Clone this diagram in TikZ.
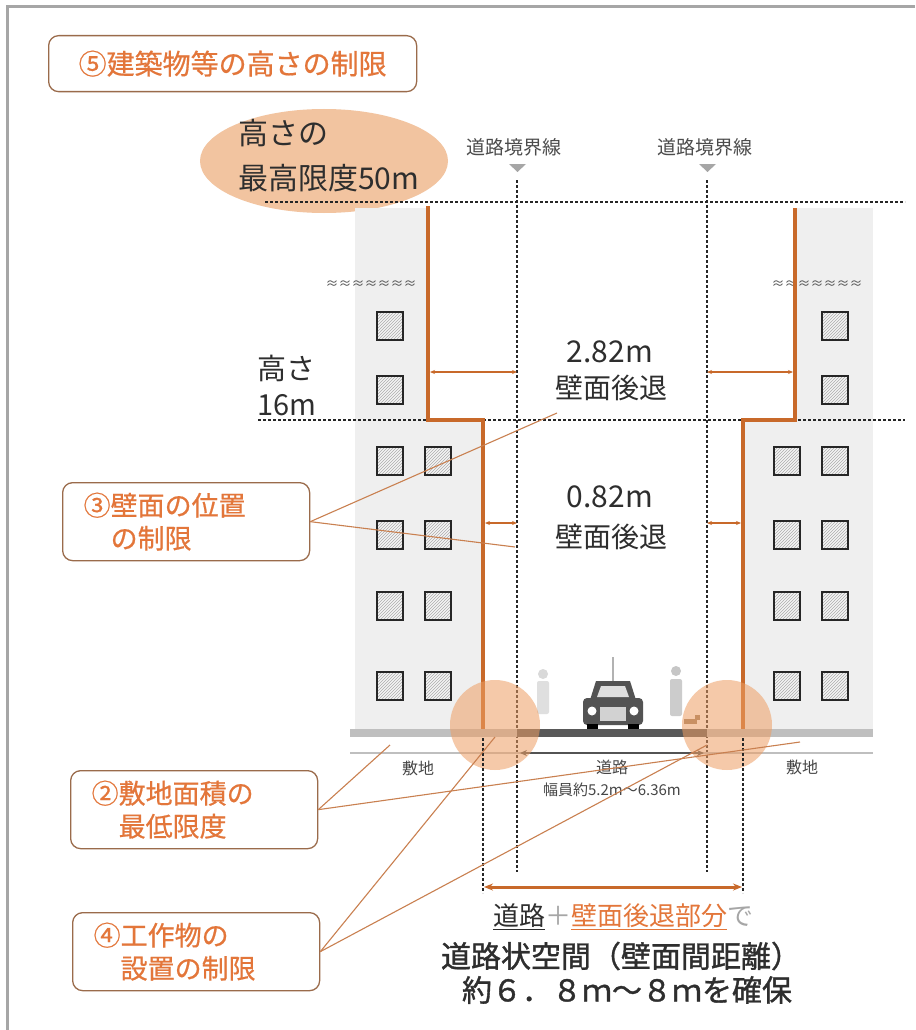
\documentclass[tikz,border=0pt]{standalone}
\usepackage{fontspec}
\setmainfont{Noto Sans CJK JP}
\newfontfamily\medfont[FakeBold=1.2]{Noto Sans CJK JP}
\newfontfamily\semifont[FakeBold=0.6]{Noto Sans CJK JP}
\usetikzlibrary{patterns,arrows.meta}

\definecolor{wallor}{HTML}{C8692A}
\definecolor{labelor}{HTML}{E3763A}
\definecolor{boxedge}{HTML}{9A6B4B}
\definecolor{blob}{HTML}{EE9E63}
\definecolor{ellfill}{HTML}{F2C4A0}
\definecolor{leader}{HTML}{C98050}
\definecolor{bldg}{HTML}{EFEFEF}
\definecolor{ink}{HTML}{2E2E2E}

\tikzset{
  window/.pic={
    \fill[gray!8] (-13,-14) rectangle (13,14);
    \fill[pattern=north east lines, pattern color=gray!65] (-13,-14) rectangle (13,14);
    \draw[line width=1.8pt, black!85] (-13,-14) rectangle (13,14);
  }
}

\begin{document}
\begin{tikzpicture}[x=1pt,y=-1pt,
  lbl/.style={draw=boxedge, line width=1.3pt, rounded corners=10pt, fill=white,
    text=labelor, font=\fontsize{27}{33}\selectfont\semifont, align=left,
    anchor=north west, minimum height=78pt, text width=205pt, inner xsep=21pt},
  wall/.style={draw=wallor, line width=3.2pt},
  dimarrow/.style={draw=wallor, line width=1.2pt,
    {Stealth[length=5pt,width=4pt]}-{Stealth[length=5pt,width=4pt]}},
  leaderline/.style={draw=leader, line width=1.1pt},
  bnd/.style={draw=black!85, line width=1.1pt, dash pattern=on 3pt off 2pt},
  bigtxt/.style={text=ink, font=\fontsize{28}{36}\selectfont},
  smalltxt/.style={text=gray!55!black, font=\fontsize{16}{16}\selectfont},
  wavetxt/.style={text=gray!60!black, font=\fontsize{13}{13}\selectfont}
]
\useasboundingbox (0,0) rectangle (915,1030);
\fill[white] (0,0) rectangle (915,1030);

% outer frame (top and left edges)
\draw[gray!70, line width=3pt] (7,1030) -- (7,7) -- (915,7);

% title box
\node[draw=boxedge, line width=1.3pt, rounded corners=10pt, text=labelor,
  font=\fontsize{28}{28}\selectfont\semifont, minimum width=368pt, minimum height=56pt,
  anchor=north west] (title) at (48,35) {⑤建築物等の高さの制限};

% height limit badge
\fill[ellfill] (324,161) ellipse [x radius=124, y radius=52];
\node[bigtxt, font=\fontsize{30}{45}\selectfont, align=left, anchor=west, inner sep=0pt]
  (hmax) at (238,156) {高さの\\最高限度50m};

% buildings
\fill[bldg] (355,208) rectangle (428,420);
\fill[bldg] (355,420) rectangle (483,733);
\fill[bldg] (795,208) rectangle (873,420);
\fill[bldg] (743,420) rectangle (873,733);

% windows
\foreach \y in {326,390} {
  \pic at (390,\y) {window};
  \pic at (835,\y) {window};
}
\foreach \y in {461,535,606,686} {
  \pic at (390,\y) {window};
  \pic at (438,\y) {window};
  \pic at (787,\y) {window};
  \pic at (835,\y) {window};
}

% broken-off marks
\node[wavetxt] (waveL) at (371,285) {≈≈≈≈≈≈≈};
\node[wavetxt] (waveR) at (817,285) {≈≈≈≈≈≈≈};

% road boundary lines
\node[text=gray!60!black, font=\fontsize{19}{19}\selectfont] (bndL) at (514,147) {道路境界線};
\node[text=gray!60!black, font=\fontsize{19}{19}\selectfont] (bndR) at (705,147) {道路境界線};
\fill[gray!70] (509,164) -- (526,164) -- (517.5,172) -- cycle;
\fill[gray!70] (699,164) -- (716,164) -- (707.5,172) -- cycle;
\draw[bnd] (517,180) -- (517,872);
\draw[bnd] (707,180) -- (707,872);

% height reference lines
\draw[bnd] (265,202) -- (905,202);
\draw[bnd] (258,420) -- (905,420);
\node[bigtxt, align=left, anchor=west, inner sep=0pt, font=\fontsize{29}{36}\selectfont]
  (h16) at (257,385) {高さ\\16m};

% setback walls
\draw[wall] (428,206) -- (428,420) -- (483,420) -- (483,735);
\draw[wall] (795,208) -- (795,420) -- (743,420) -- (743,735);

% setback dimensions
\draw[dimarrow] (430,372) -- (517,372);
\draw[dimarrow] (707,372) -- (793,372);
\draw[dimarrow] (485,523) -- (517,523);
\draw[dimarrow] (707,523) -- (741,523);
\node[bigtxt, font=\fontsize{30}{30}\selectfont] (d282) at (610,352) {2.82m};
\node[bigtxt] (s282) at (611,388) {壁面後退};
\node[bigtxt, font=\fontsize{30}{30}\selectfont] (d082) at (610,497) {0.82m};
\node[bigtxt] (s082) at (611,537) {壁面後退};

% ground
\fill[gray!50] (350,729) rectangle (873,737);
\fill[gray!70!black] (517,729) rectangle (707,737);
\draw[gray!50, line width=2.5pt] (350,753) -- (873,753);
\draw[gray!65!black, line width=2.5pt, {Stealth[length=7pt,width=6pt]}-{Stealth[length=7pt,width=6pt]}]
  (520,753) -- (704,753);

% car
\draw[gray!60, line width=1.5pt] (613,657) -- (613,681);
\fill[gray!65!black] (590,700) -- (596,681) -- (630,681) -- (636,700) -- cycle;
\fill[gray!25] (597,697) -- (601,686) -- (625,686) -- (629,697) -- cycle;
\fill[gray!65!black, rounded corners=4pt] (583,698) rectangle (643,725);
\fill[gray!35] (600,707) rectangle (626,721);
\fill[white] (592,711) circle [radius=4.5];
\fill[white] (634,711) circle [radius=4.5];
\fill[black] (587,724) rectangle (598,729);
\fill[black] (628,724) rectangle (639,729);

% pedestrians and dog
\fill[gray!30] (543,674) circle [radius=5];
\fill[gray!25, rounded corners=2pt] (537,681) rectangle (549,714);
\fill[gray!45] (676,671) circle [radius=5];
\fill[gray!40, rounded corners=2pt] (670,679) rectangle (682,716);
\fill[gray!55!brown] (684,719) rectangle (697,724);
\fill[gray!55!brown] (695,715) rectangle (700,720);

% highlighted wall bases
\fill[blob, opacity=0.55] (495,725) circle [radius=45];
\fill[blob, opacity=0.55] (727,725) circle [radius=45];

% ground labels
\node[smalltxt] (siteL) at (418,768) {敷地};
\node[smalltxt] (road) at (612,767) {道路};
\node[smalltxt, font=\fontsize{15}{15}\selectfont] (roadw) at (612,790) {幅員約5.2m～6.36m};
\node[smalltxt] (siteR) at (802,767) {敷地};

% wall-to-wall distance
\draw[bnd] (483,738) -- (483,893);
\draw[bnd] (743,738) -- (743,893);
\draw[wallor, line width=3pt, {Stealth[length=9pt,width=7pt]}-{Stealth[length=9pt,width=7pt]}]
  (484,887) -- (742,887);
\node[text=gray!70, font=\fontsize{26}{26}\selectfont] (sum) at (623,917)
  {{\color{ink}\underline{道路}}＋{\color{labelor}\underline{壁面後退部分}}で};
\node[text=ink, font=\fontsize{30}{30}\selectfont\medfont] (space) at (621,956) {道路状空間（壁面間距離）};
\node[text=ink, font=\fontsize{30}{30}\selectfont\medfont] (secure) at (627,990) {約６．８ｍ～８ｍを確保};

% label boxes
\node[lbl] (b3) at (62,482) {③壁面の位置\\\hspace*{1em}の制限};
\node[lbl] (b2) at (70,770) {②敷地面積の\\\hspace*{1em}最低限度};
\node[lbl] (b4) at (72,912) {④工作物の\\\hspace*{1em}設置の制限};

% leaders
\coordinate (p282) at (557,413);
\coordinate (p082) at (515,547);
\coordinate (psiteL) at (390,745);
\coordinate (psiteR) at (800,742);
\coordinate (pbaseL) at (495,737);
\coordinate (pbaseR) at (707,745);
\draw[leaderline] (b3.east) -- (p282);
\draw[leaderline] (b3.east) -- (p082);
\draw[leaderline] (b2.east) -- (psiteL);
\draw[leaderline] (b2.east) -- (psiteR);
\draw[leaderline] (b4.east) -- (pbaseL);
\draw[leaderline] (b4.east) -- (pbaseR);
\end{tikzpicture}
\end{document}
